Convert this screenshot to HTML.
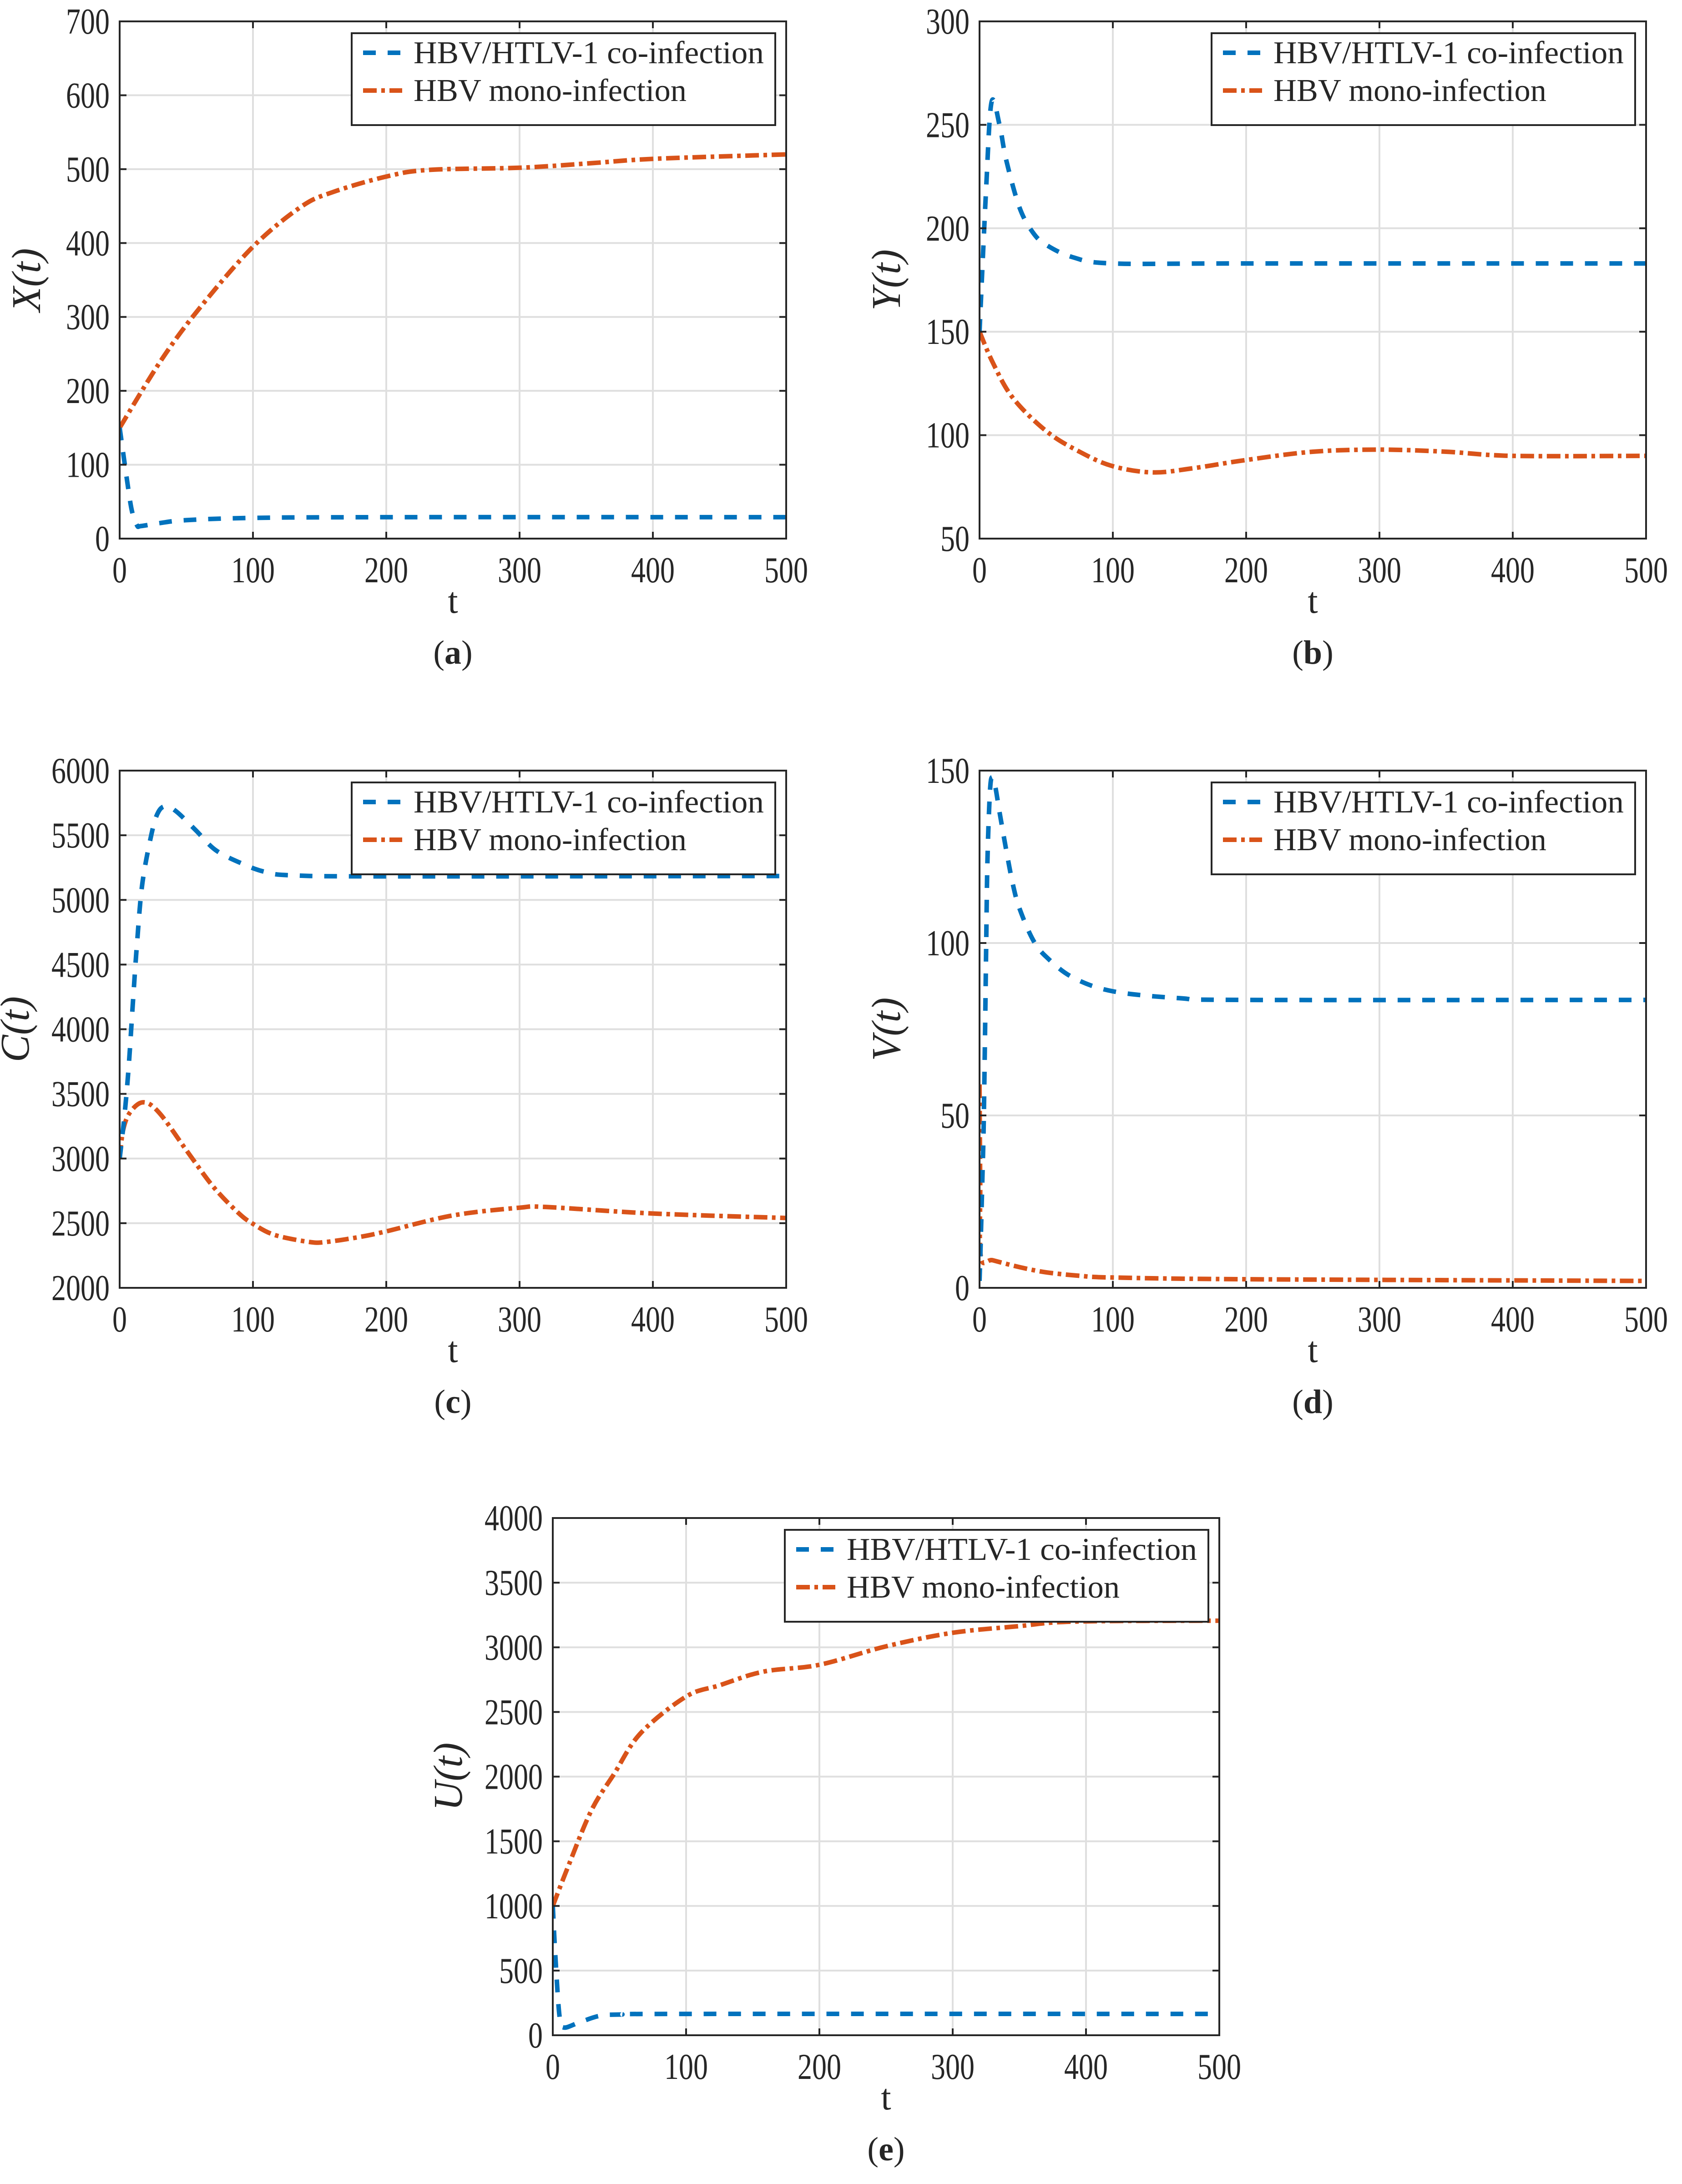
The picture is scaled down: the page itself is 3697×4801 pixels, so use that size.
<!DOCTYPE html>
<html><head><meta charset="utf-8">
<style>
html,body{margin:0;padding:0;background:#fff;}
svg{display:block;}
svg text{font-family:"Liberation Serif","Times New Roman",serif;fill:#262626;}
</style></head>
<body>
<svg id="fig" width="3697" height="4801" viewBox="0 0 3697 4801" xmlns="http://www.w3.org/2000/svg" font-family="Liberation Serif, serif"></svg>
<script>
// ---- data ----
const aBlueT=[0,5,9,13,16,30,50,100,200,500];
const aBlueV=[150,86,39,18,17,21,25,28,29,29];
const aOrT=[0,31,60,100,136,160,200,232,301,353,401,500];
const aOrV=[150,241,312,395,449,469,490,499,502,508,514,520];

const bBlueT=[0,5,9,15,20,30,40,50,70,100,200,500];
const bBlueV=[150,220,261,250,233,210,198,192,186,183,183,183];
const bOrT=[0,10,25,50,75,100,130,160,200,250,300,350,400,500];
const bOrV=[150,135,118,102,92,85,82,84,88,92,93,92,90,90];

const cBlueT=[0,3.3,6.6,9.9,13,17,24,29,35,43,57,72,92,109,129,200,500];
const cBlueV=[3000,3300,3685,4200,4660,5125,5515,5680,5725,5680,5540,5385,5280,5217,5190,5182,5185];
const cOrT=[0,2.6,8,18,30,50,70,89,100,116,142,155,181,200,250,300,320,400,500];
const cOrV=[3000,3220,3360,3435,3350,3065,2785,2580,2495,2410,2355,2355,2395,2437,2560,2620,2625,2575,2540];

const dBlueT=[0,1,2,3,4,5,6,8,10,12,15,20,25,30,40,50,70,100,150,200,500];
const dBlueV=[2,15,30,45,70,100,125,145,148,145,138,127,117,110,101,96,90,86,84,83.5,83.5];
const dOrT=[0,0.5,1,10,30,50,75,100,200,500];
const dOrV=[59,30,9,8,6,4.5,3.5,3,2.5,2];

const eBlueT=[0,2,5,8,20,35,50,100,500];
const eBlueV=[1000,600,150,60,100,150,160,165,165];
const eOrT=[0,12,29,46,66,100,125,158,200,249,299,349,391,500];
const eOrV=[1000,1318,1740,2021,2337,2619,2706,2812,2865,3005,3111,3163,3199,3206];

const xTicks=[0,100,200,300,400,500];
const aYTicks=[0,100,200,300,400,500,600,700];
const bYTicks=[50,100,150,200,250,300];
const cYTicks=[2000,2500,3000,3500,4000,4500,5000,5500,6000];
const dYTicks=[0,50,100,150];
const eYTicks=[0,500,1000,1500,2000,2500,3000,3500,4000];

const NS="http://www.w3.org/2000/svg";
const svg=document.getElementById('fig');
const W=1465,H=1137;
const FF='"Liberation Serif", serif';
function mk(tag,attrs,parent){const e=document.createElementNS(NS,tag);for(const k in attrs)e.setAttribute(k,attrs[k]);if(tag==='text'){e.style.fontFamily=FF;}(parent||svg).appendChild(e);return e;}
function pathFrom(pts){
  let d='M'+pts[0][0].toFixed(1)+','+pts[0][1].toFixed(1);
  for(let i=0;i<pts.length-1;i++){
    const p0=pts[Math.max(0,i-1)],p1=pts[i],p2=pts[i+1],p3=pts[Math.min(pts.length-1,i+2)];
    const c1=[p1[0]+(p2[0]-p0[0])/6,p1[1]+(p2[1]-p0[1])/6];
    const c2=[p2[0]-(p3[0]-p1[0])/6,p2[1]-(p3[1]-p1[1])/6];
    d+='C'+c1[0].toFixed(1)+','+c1[1].toFixed(1)+' '+c2[0].toFixed(1)+','+c2[1].toFixed(1)+' '+p2[0].toFixed(1)+','+p2[1].toFixed(1);
  }
  return d;
}
function panel(id,L,T,yMin,yMax,yTicks,ylab,ylabOff,bT,bV,oT,oV,letter){
  const g=mk('g',{});
  
  
  const sx=t=>L+t/500*W, sy=v=>T+H-(v-yMin)/(yMax-yMin)*H;
  xTicks.forEach(t=>{
    const l=mk('line',{x1:sx(t),x2:sx(t),y1:T,y2:T+H,stroke:'#dfdfdf','stroke-width':4},g);
    
    
  });
  yTicks.forEach(v=>{
    const l=mk('line',{x1:L,x2:L+W,y1:sy(v),y2:sy(v),stroke:'#dfdfdf','stroke-width':4},g);
    
    
  });
  const clip=mk('clipPath',{id:'clip'+id},g);
  mk('rect',{x:L,y:T,width:W,height:H},clip);
  const bp=bT.map((t,i)=>[sx(t),sy(bV[i])]);
  const op=oT.map((t,i)=>[sx(t),sy(oV[i])]);
  const ol=mk('path',{d:pathFrom(op),fill:'none',stroke:'#D95319','stroke-width':10,'stroke-dasharray':'30 10 8 10','clip-path':'url(#clip'+id+')'},g);
  
  
  const bl=mk('path',{d:pathFrom(bp),fill:'none',stroke:'#0072BD','stroke-width':10,'stroke-dasharray':'28 26','clip-path':'url(#clip'+id+')'},g);
  
  
  const fr=mk('rect',{x:L,y:T,width:W,height:H,fill:'none',stroke:'#262626','stroke-width':4},g);
  
  
  xTicks.forEach(t=>{
    mk('line',{x1:sx(t),x2:sx(t),y1:T+H,y2:T+H-15,stroke:'#262626','stroke-width':4},g);
    mk('line',{x1:sx(t),x2:sx(t),y1:T,y2:T+15,stroke:'#262626','stroke-width':4},g);
    const s=String(t);
    const tx=mk('text',{x:sx(t),y:T+H+96,'font-size':80,'text-anchor':'middle',textLength:s.length*32,lengthAdjust:'spacingAndGlyphs'},g);
    tx.textContent=s;
    
    
  });
  yTicks.forEach(v=>{
    mk('line',{x1:L,x2:L+15,y1:sy(v),y2:sy(v),stroke:'#262626','stroke-width':4},g);
    mk('line',{x1:L+W,x2:L+W-15,y1:sy(v),y2:sy(v),stroke:'#262626','stroke-width':4},g);
    const s=String(v);
    const ty=mk('text',{x:L-22,y:sy(v)+27,'font-size':80,'text-anchor':'end',textLength:s.length*32,lengthAdjust:'spacingAndGlyphs'},g);
    ty.textContent=s;
    
    
  });
  const xl=mk('text',{x:L+W/2,y:T+1300,'font-size':80,'text-anchor':'middle'},g);
  xl.textContent='t';
  
  
  const yx=L-ylabOff, yy=T+H/2;
  const yl=mk('text',{x:yx,y:yy,'font-size':90,'font-style':'italic','text-anchor':'middle',transform:'rotate(-90 '+yx+' '+yy+')'},g);
  yl.textContent=ylab+'(t)';
  
  
  const cap=mk('text',{x:L+W/2,y:T+1412,'font-size':74,'text-anchor':'middle'},g);
  cap.innerHTML='(<tspan font-weight="bold">'+letter+'</tspan>)';
  
  
  // legend
  const lg=mk('g',{},g);
  
  
  mk('rect',{x:L+510,y:T+26,width:931,height:202,fill:'#fff',stroke:'#262626','stroke-width':4},lg);
  const e1=mk('line',{x1:L+535,x2:L+621,y1:T+69,y2:T+69,stroke:'#0072BD','stroke-width':10,'stroke-dasharray':'28 26'},lg);
  
  
  const t1=mk('text',{x:L+646,y:T+92,'font-size':70,textLength:770,lengthAdjust:'spacingAndGlyphs'},lg);
  t1.textContent='HBV/HTLV-1 co-infection';
  
  
  const e2=mk('line',{x1:L+535,x2:L+621,y1:T+152,y2:T+152,stroke:'#D95319','stroke-width':10,'stroke-dasharray':'30 10 8 10'},lg);
  
  
  const t2=mk('text',{x:L+646,y:T+175,'font-size':70,textLength:600,lengthAdjust:'spacingAndGlyphs'},lg);
  t2.textContent='HBV mono-infection';
  
  
}
panel('a',263,47,0,700,aYTicks,'X',175,aBlueT,aBlueV,aOrT,aOrV,'a');
panel('b',2153,47,50,300,bYTicks,'Y',175,bBlueT,bBlueV,bOrT,bOrV,'b');
panel('c',263,1694,2000,6000,cYTicks,'C',200,cBlueT,cBlueV,cOrT,cOrV,'c');
panel('d',2153,1694,0,150,dYTicks,'V',175,dBlueT,dBlueV,dOrT,dOrV,'d');
panel('e',1215,3337,0,4000,eYTicks,'U',200,eBlueT,eBlueV,eOrT,eOrV,'e');
</script>
</body></html>
